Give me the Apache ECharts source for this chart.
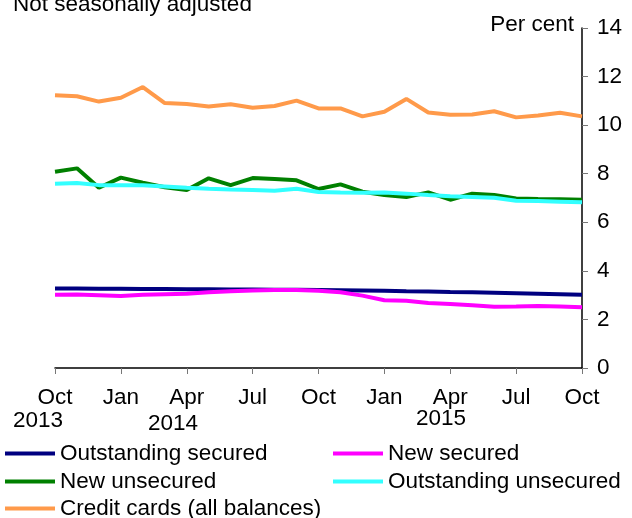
<!DOCTYPE html>
<html>
<head>
<meta charset="utf-8">
<script src="https://cdn.jsdelivr.net/npm/echarts@6/dist/echarts.min.js"></script>
<style>
    html, body { margin: 0; padding: 0; background: #fff; }
    #chart { width: 632px; height: 518px; }
</style>
</head>
<body>
<div id="chart"></div>
<script>
// months Oct 2013 .. Oct 2015
const months = ['Oct 2013', 'Nov 2013', 'Dec 2013', 'Jan 2014', 'Feb 2014', 'Mar 2014', 'Apr 2014',
    'May 2014', 'Jun 2014', 'Jul 2014', 'Aug 2014', 'Sep 2014', 'Oct 2014', 'Nov 2014', 'Dec 2014',
    'Jan 2015', 'Feb 2015', 'Mar 2015', 'Apr 2015', 'May 2015', 'Jun 2015', 'Jul 2015', 'Aug 2015',
    'Sep 2015', 'Oct 2015'];
const years = ['2013', '2014', '2015'];
const yTicks = [0, 2, 4, 6, 8, 10, 12, 14];

const outstandingSecured = [3.27, 3.27, 3.26, 3.26, 3.25, 3.25, 3.24, 3.24, 3.23, 3.23, 3.22, 3.22, 3.21,
    3.20, 3.19, 3.18, 3.16, 3.15, 3.13, 3.12, 3.10, 3.08, 3.06, 3.04, 3.02];
const newSecured = [3.02, 3.03, 3.00, 2.96, 3.02, 3.04, 3.06, 3.12, 3.16, 3.19, 3.21, 3.21, 3.18,
    3.12, 2.98, 2.79, 2.77, 2.68, 2.64, 2.58, 2.52, 2.53, 2.55, 2.53, 2.50];
const newUnsecured = [8.08, 8.22, 7.42, 7.84, 7.63, 7.44, 7.33, 7.81, 7.53, 7.82, 7.78, 7.73, 7.37,
    7.56, 7.26, 7.12, 7.04, 7.23, 6.93, 7.18, 7.12, 6.98, 6.96, 6.95, 6.93];
const outstandingUnsecured = [7.59, 7.62, 7.53, 7.53, 7.52, 7.47, 7.42, 7.38, 7.35, 7.33, 7.30, 7.38, 7.25,
    7.23, 7.22, 7.23, 7.18, 7.12, 7.07, 7.04, 7.01, 6.89, 6.88, 6.85, 6.82];
const creditCards = [11.23, 11.19, 10.97, 11.13, 11.57, 10.91, 10.87, 10.77, 10.86, 10.72, 10.79, 11.01, 10.69,
    10.69, 10.36, 10.55, 11.08, 10.52, 10.43, 10.44, 10.57, 10.32, 10.40, 10.51, 10.36];

const FONT = "'Liberation Sans', Arial, sans-serif";
const FS = 22.5;

const mychart = echarts.init(document.getElementById('chart'));

function line(name, data, color) {
    return {
        name: name,
        type: 'line',
        data: data,
        symbol: 'none',
        smooth: false,
        lineStyle: { color: color, width: 4 },
        itemStyle: { color: color }
    };
}

// one legend per entry so the two columns sit where they should
function legendAt(name, left, top) {
    return {
        left: left,
        top: top,
        data: [name],
        icon: 'rect',
        itemWidth: 50,
        itemHeight: 4,
        padding: 0,
        selectedMode: false,
        textStyle: { fontFamily: FONT, fontSize: FS, color: '#000' }
    };
}

mychart.setOption({
    animation: false,
    textStyle: { fontFamily: FONT },
    grid: { left: 55, right: 50, top: 28, bottom: 150, outerBoundsMode: 'none' },
    legend: [
        legendAt('Outstanding secured', 5, 442),
        legendAt('New secured', 333, 442),
        legendAt('New unsecured', 5, 470),
        legendAt('Outstanding unsecured', 333, 470),
        legendAt('Credit cards (all balances)', 5, 497)
    ],
    xAxis: {
        type: 'category',
        data: months,
        boundaryGap: false,
        axisLine: { lineStyle: { color: '#000', width: 1.5 } },
        axisTick: { interval: 2, length: 6, lineStyle: { color: '#777' } },
        axisLabel: {
            interval: 2,
            margin: 18,
            color: '#000',
            fontSize: FS,
            fontFamily: FONT,
            hideOverlap: false,
            formatter: function (v) { return v.split(' ')[0]; }
        },
        splitLine: { show: false }
    },
    yAxis: {
        type: 'value',
        position: 'right',
        min: yTicks[0],
        max: yTicks[yTicks.length - 1],
        interval: 2,
        axisLine: { show: true, lineStyle: { color: '#000', width: 1.5 } },
        axisTick: { show: true, length: 6, lineStyle: { color: '#777' } },
        axisLabel: { margin: 15, color: '#000', fontSize: FS, fontFamily: FONT },
        splitLine: { show: false }
    },
    graphic: [
        { type: 'text', left: 13, top: -7, style: { text: 'Not seasonally adjusted', font: FS + 'px ' + FONT, fill: '#000' } },
        { type: 'text', right: 58, top: 13, style: { text: 'Per cent', font: FS + 'px ' + FONT, fill: '#000' } },
        { type: 'text', x: 38, y: 421, style: { text: years[0], font: FS + 'px ' + FONT, fill: '#000', align: 'center', verticalAlign: 'middle' } },
        { type: 'text', x: 173, y: 424, style: { text: years[1], font: FS + 'px ' + FONT, fill: '#000', align: 'center', verticalAlign: 'middle' } },
        { type: 'text', x: 441, y: 419, style: { text: years[2], font: FS + 'px ' + FONT, fill: '#000', align: 'center', verticalAlign: 'middle' } }
    ],
    series: [
        line('Outstanding secured', outstandingSecured, '#000080'),
        line('New secured', newSecured, '#ff00ff'),
        line('New unsecured', newUnsecured, '#008000'),
        line('Outstanding unsecured', outstandingUnsecured, '#33ffff'),
        line('Credit cards (all balances)', creditCards, '#ff9a4a')
    ]
});
</script>
</body>
</html>
